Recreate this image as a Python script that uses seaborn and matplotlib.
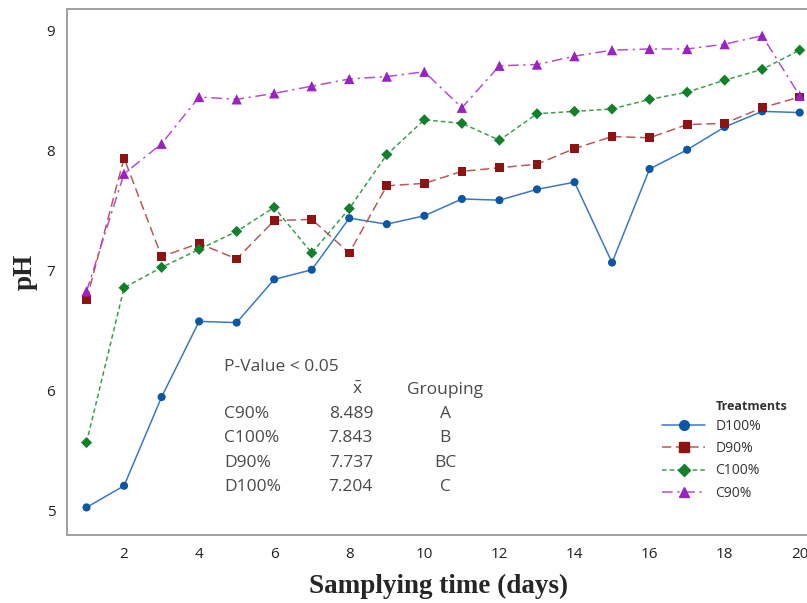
import matplotlib

matplotlib.use("Agg")
import matplotlib.pyplot as plt
from matplotlib.lines import Line2D
import numpy as np
import pandas as pd
import seaborn as sns

# ---- data
days = list(range(1, 21))
treatments = ["D100%", "D90%", "C100%", "C90%"]
ph_d100 = [5.03, 5.21, 5.95, 6.58, 6.57, 6.93, 7.01, 7.44, 7.39, 7.46,
           7.60, 7.59, 7.68, 7.74, 7.07, 7.85, 8.01, 8.20, 8.33, 8.32]
ph_d90 = [6.76, 7.94, 7.12, 7.23, 7.10, 7.42, 7.43, 7.15, 7.71, 7.73,
          7.83, 7.86, 7.89, 8.02, 8.12, 8.11, 8.22, 8.23, 8.36, 8.45]
ph_c100 = [5.57, 6.86, 7.03, 7.18, 7.33, 7.53, 7.15, 7.52, 7.97, 8.26,
           8.23, 8.09, 8.31, 8.33, 8.35, 8.43, 8.49, 8.59, 8.68, 8.84]
ph_c90 = [6.83, 7.81, 8.06, 8.45, 8.43, 8.48, 8.54, 8.60, 8.62, 8.66,
          8.36, 8.71, 8.72, 8.79, 8.84, 8.85, 8.85, 8.89, 8.96, 8.46]

stat_names = ["C90%", "C100%", "D90%", "D100%"]
stat_means = ["8.489", "7.843", "7.737", "7.204"]
stat_groups = ["A", "B", "BC", "C"]

df = pd.DataFrame({
    "day": days * 4,
    "pH": ph_d100 + ph_d90 + ph_c100 + ph_c90,
    "Treatment": np.repeat(treatments, len(days)),
})

line_cols = {"D100%": "#3b78c4", "D90%": "#b85a5a",
             "C100%": "#3f9c4e", "C90%": "#b24fd0"}
mark_cols = {"D100%": "#0b57a6", "D90%": "#8e1414",
             "C100%": "#10812a", "C90%": "#9a22c0"}
markers = {"D100%": "o", "D90%": "s", "C100%": "D", "C90%": "^"}
msizes = {"D100%": 34, "D90%": 40, "C100%": 32, "C90%": 55}
dashes = {"D100%": "", "D90%": (6, 3), "C100%": (3, 2), "C90%": (7, 3, 1.5, 3)}

sns.set_style("white")
plt.rcParams["font.family"] = ["Open Sans", "DejaVu Sans"]
plt.rcParams["mathtext.fontset"] = "custom"
plt.rcParams["mathtext.rm"] = "Open Sans"

fig = plt.figure(figsize=(8.07, 6.03), dpi=100)
ax = fig.add_axes([67 / 807, 68 / 603, 744 / 807, 526 / 603])

sns.lineplot(data=df, x="day", y="pH", hue="Treatment", style="Treatment",
             palette=line_cols, dashes=dashes, linewidth=1.1,
             legend=False, ax=ax)
sns.scatterplot(data=df, x="day", y="pH", hue="Treatment",
                style="Treatment", palette=mark_cols, markers=markers,
                size="Treatment", sizes=msizes, linewidth=0,
                legend=False, ax=ax, zorder=3)

ax.set_xlim(0.48, 20.3)
ax.set_ylim(4.8, 9.183)
ax.set_xticks(range(2, 21, 2))
ax.set_yticks([5, 6, 7, 8, 9])
for s in ["top", "left", "bottom"]:
    ax.spines[s].set_color("#a0a0a0")
    ax.spines[s].set_linewidth(1.4)
ax.spines["right"].set_visible(False)
ax.tick_params(axis="both", direction="out", length=5, width=1,
               color="#a0a0a0", labelsize=11, labelcolor="#222222")

ax.set_xlabel("Samplying time (days)", family="Liberation Serif",
              fontweight="bold", fontsize=19.5, labelpad=9)
ax.set_ylabel("pH", family="Liberation Serif", fontweight="bold",
              fontsize=19.5, labelpad=6)

# ---- Tukey grouping table
tc = "#4a4a4a"
fs = 12.5
fig.text(224 / 807, 1 - 367 / 603, "P-Value < 0.05", color=tc,
         fontsize=fs, va="center")
fig.text(357 / 807, 1 - 390 / 603, r"$\bar{\mathrm{x}}$", color=tc,
         fontsize=fs, va="center", ha="center")
fig.text(445 / 807, 1 - 390 / 603, "Grouping", color=tc, fontsize=fs,
         va="center", ha="center")
for i, (n, m, g) in enumerate(zip(stat_names, stat_means, stat_groups)):
    y = 1 - (414 + 24.3 * i) / 603
    fig.text(224 / 807, y, n, color=tc, fontsize=fs, va="center")
    fig.text(373 / 807, y, m, color=tc, fontsize=fs, va="center",
             ha="right")
    fig.text(445 / 807, y, g, color=tc, fontsize=fs, va="center",
             ha="center")

# ---- legend
handles = []
for t in treatments:
    h = Line2D([], [], color=line_cols[t], lw=1.1, marker=markers[t],
               markersize=6 if t == "C100%" else 7,
               markerfacecolor=mark_cols[t], markeredgecolor=mark_cols[t])
    if dashes[t]:
        h.set_dashes(dashes[t])
    handles.append(h)
leg = ax.legend(handles, treatments, loc="upper left",
                bbox_to_anchor=(662 / 807, 1 - 419 / 603),
                bbox_transform=fig.transFigure, frameon=False,
                fontsize=10, handlelength=3.1, handletextpad=0.75,
                labelspacing=0.52, borderpad=0, borderaxespad=0)
for t in leg.get_texts():
    t.set_color("#333333")
fig.text(716 / 807, 1 - 407 / 603, "Treatments", fontsize=9,
         fontweight="bold", color="#333333", va="center")

fig.savefig("out.png", dpi=100)
